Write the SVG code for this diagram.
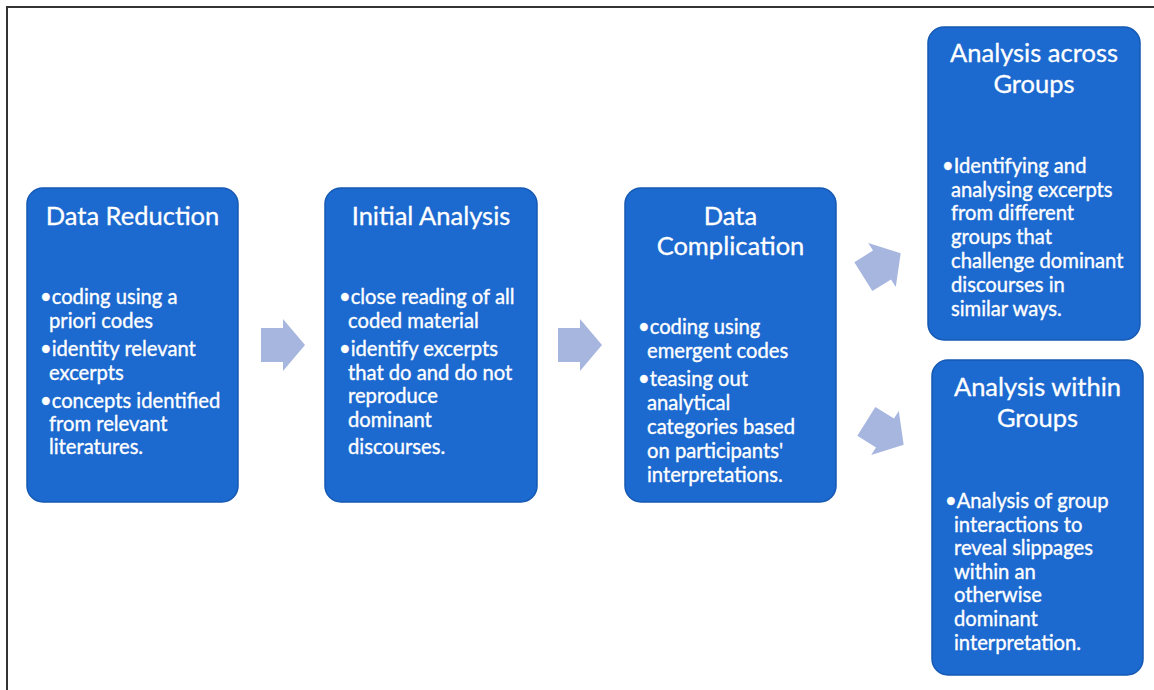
<svg xmlns="http://www.w3.org/2000/svg" width="1154" height="690" viewBox="0 0 1154 690">
  <style>
    .box { fill: #1c69cf; stroke: #1559b3; stroke-width: 1.5; }
    .title { font-family: Lato, "Liberation Sans", sans-serif; font-size: 25.5px; fill: #ffffff; stroke: #ffffff; stroke-width: 0.3; text-anchor: middle; }
    .body { font-family: Lato, "Liberation Sans", sans-serif; font-size: 20.2px; fill: #ffffff; stroke: #ffffff; stroke-width: 0.35; }
    .arrow { fill: #a7b6df; }
  </style>
  <defs>
    <polygon id="blockArrow" points="-22,-17 0,-17 0,-26 22,0 0,26 0,17 -22,17"/>
  </defs>
  <rect x="0" y="0" width="1154" height="690" fill="#ffffff"/>
  <!-- frame: only left and top edges fall inside the canvas -->
  <path d="M7,690 V7 H1154" fill="none" stroke="#333333" stroke-width="2"/>

  <g id="connectors" class="arrow">
    <use href="#blockArrow" transform="translate(283,345)"/>
    <use href="#blockArrow" transform="translate(580,345)"/>
    <use href="#blockArrow" transform="translate(882,265) rotate(-32)"/>
    <use href="#blockArrow" transform="translate(885,433) rotate(32)"/>
  </g>

  <g id="data-reduction">
    <rect class="box" x="27" y="188" width="211" height="314" rx="16"/>
    <text class="title" x="132.5" y="225">Data Reduction</text>
    <text class="body">
      <tspan x="40" y="304">•coding using a</tspan>
      <tspan x="49" y="328">priori codes</tspan>
      <tspan x="40" y="356">•identity relevant</tspan>
      <tspan x="49" y="380">excerpts</tspan>
      <tspan x="40" y="408">•concepts identified</tspan>
      <tspan x="49" y="431">from relevant</tspan>
      <tspan x="49" y="454">literatures.</tspan>
    </text>
  </g>

  <g id="initial-analysis">
    <rect class="box" x="325" y="188" width="212" height="314" rx="16"/>
    <text class="title" x="431" y="225">Initial Analysis</text>
    <text class="body">
      <tspan x="339" y="304">•close reading of all</tspan>
      <tspan x="348" y="328">coded material</tspan>
      <tspan x="339" y="356">•identify excerpts</tspan>
      <tspan x="348" y="380">that do and do not</tspan>
      <tspan x="348" y="403">reproduce</tspan>
      <tspan x="348" y="427">dominant</tspan>
      <tspan x="348" y="454">discourses.</tspan>
    </text>
  </g>

  <g id="data-complication">
    <rect class="box" x="625" y="188" width="211" height="314" rx="16"/>
    <text class="title" x="730.5" y="225">Data</text>
    <text class="title" x="730.5" y="255">Complication</text>
    <text class="body">
      <tspan x="638" y="334">•coding using</tspan>
      <tspan x="647" y="358">emergent codes</tspan>
      <tspan x="638" y="386">•teasing out</tspan>
      <tspan x="647" y="410">analytical</tspan>
      <tspan x="647" y="434">categories based</tspan>
      <tspan x="647" y="458">on participants'</tspan>
      <tspan x="647" y="482">interpretations.</tspan>
    </text>
  </g>

  <g id="analysis-across-groups">
    <rect class="box" x="928" y="27" width="212" height="313" rx="16"/>
    <text class="title" x="1034" y="62">Analysis across</text>
    <text class="title" x="1034" y="93">Groups</text>
    <text class="body">
      <tspan x="942" y="173">•Identifying and</tspan>
      <tspan x="951" y="197">analysing excerpts</tspan>
      <tspan x="951" y="220">from different</tspan>
      <tspan x="951" y="244">groups that</tspan>
      <tspan x="951" y="268">challenge dominant</tspan>
      <tspan x="951" y="292">discourses in</tspan>
      <tspan x="951" y="316">similar ways.</tspan>
    </text>
  </g>

  <g id="analysis-within-groups">
    <rect class="box" x="932" y="360" width="211" height="315" rx="16"/>
    <text class="title" x="1037.5" y="396">Analysis within</text>
    <text class="title" x="1037.5" y="427">Groups</text>
    <text class="body">
      <tspan x="945" y="508">•Analysis of group</tspan>
      <tspan x="954" y="532">interactions to</tspan>
      <tspan x="954" y="555">reveal slippages</tspan>
      <tspan x="954" y="579">within an</tspan>
      <tspan x="954" y="602">otherwise</tspan>
      <tspan x="954" y="626">dominant</tspan>
      <tspan x="954" y="650">interpretation.</tspan>
    </text>
  </g>
</svg>
